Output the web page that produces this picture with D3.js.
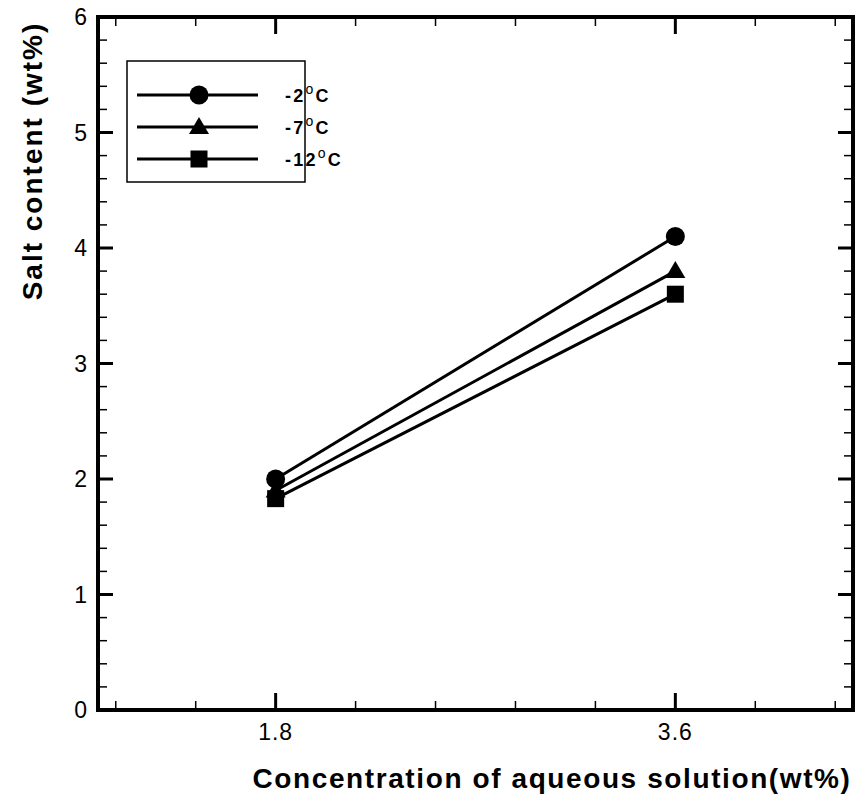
<!DOCTYPE html>
<html>
<head>
<meta charset="utf-8">
<script src="https://cdn.jsdelivr.net/npm/d3@7"></script>
<style>
  body { margin: 0; background: #fff; }
  svg { font-family: "Liberation Sans", Arial, sans-serif; }
</style>
</head>
<body>
<div id="chart"></div>
<script>
// data
const concentrations = [1.8, 3.6];
const temps = ["-2", "-7", "-12"];
const symbols = ["circle", "triangle", "square"];
const salt_m2 = [2.0, 4.1];
const salt_m7 = [1.9, 3.8];
const salt_m12 = [1.83, 3.6];
const seriesValues = [salt_m2, salt_m7, salt_m12];
const yTicks = [0, 1, 2, 3, 4, 5, 6];

const width = 863, height = 800;
const margin = { top: 17, right: 8, bottom: 90, left: 98 };

const svg = d3.select("#chart").append("svg")
    .attr("width", width)
    .attr("height", height);

const x = d3.scaleLinear().domain([1.0, 4.4]).range([margin.left, width - margin.right - 2]);
const y = d3.scaleLinear().domain([0, 6]).range([height - margin.bottom, margin.top]);

const x0 = x.range()[0], x1 = x.range()[1];
const y0 = y.range()[0], y1 = y.range()[1];

const minorX = d3.range(1.08, 4.4, 0.36).map(v => +v.toFixed(2))
    .filter(v => !concentrations.includes(v));
const minorY = d3.range(0, 6.001, 0.2).map(v => +v.toFixed(1))
    .filter(v => !yTicks.includes(v));

// ticks
const g = svg.append("g");
function ticksX(vals, len, w) {
    g.selectAll(null).data(vals).enter().append("line")
        .attr("x1", d => x(d)).attr("x2", d => x(d))
        .attr("y1", y0).attr("y2", y0 - len)
        .attr("stroke", "#000").attr("stroke-width", w);
    g.selectAll(null).data(vals).enter().append("line")
        .attr("x1", d => x(d)).attr("x2", d => x(d))
        .attr("y1", y1).attr("y2", y1 + len)
        .attr("stroke", "#000").attr("stroke-width", w);
}
function ticksY(vals, len, w) {
    g.selectAll(null).data(vals).enter().append("line")
        .attr("y1", d => y(d)).attr("y2", d => y(d))
        .attr("x1", x0).attr("x2", x0 + len)
        .attr("stroke", "#000").attr("stroke-width", w);
    g.selectAll(null).data(vals).enter().append("line")
        .attr("y1", d => y(d)).attr("y2", d => y(d))
        .attr("x1", x1).attr("x2", x1 - len)
        .attr("stroke", "#000").attr("stroke-width", w);
}
ticksX(minorX, 9, 1.5);
ticksX(concentrations, 17, 3);
ticksY(minorY, 9, 1.5);
ticksY(yTicks, 15, 3);

// frame
svg.append("rect")
    .attr("x", x0).attr("y", y1)
    .attr("width", x1 - x0).attr("height", y0 - y1)
    .attr("fill", "none").attr("stroke", "#000").attr("stroke-width", 4);

// tick labels
svg.selectAll(".xl").data(concentrations).enter().append("text")
    .attr("x", d => x(d)).attr("y", y0 + 30)
    .attr("text-anchor", "middle").attr("font-size", 23).attr("letter-spacing", 1)
    .text(d => d.toFixed(1));
svg.selectAll(".yl").data(yTicks).enter().append("text")
    .attr("x", x0 - 11).attr("y", d => y(d) + 8)
    .attr("text-anchor", "end").attr("font-size", 23)
    .text(d => d);

// axis titles
svg.append("text")
    .attr("x", 552).attr("y", 788)
    .attr("text-anchor", "middle").attr("font-size", 28).attr("font-weight", "bold")
    .attr("letter-spacing", 1.6)
    .text("Concentration of aqueous solution(wt%)");
svg.append("text")
    .attr("transform", `translate(42, 161) rotate(-90)`)
    .attr("text-anchor", "middle").attr("font-size", 28).attr("font-weight", "bold")
    .attr("letter-spacing", 2)
    .text("Salt content (wt%)");

function drawSymbol(sel, type, cx, cy) {
    if (type === "circle") {
        sel.append("circle").attr("cx", cx).attr("cy", cy).attr("r", 9.5).attr("fill", "#000");
    } else if (type === "triangle") {
        sel.append("path")
            .attr("d", `M${cx},${cy - 10}L${cx + 10},${cy + 7}L${cx - 10},${cy + 7}Z`)
            .attr("fill", "#000");
    } else {
        sel.append("rect").attr("x", cx - 8.5).attr("y", cy - 8.5)
            .attr("width", 17).attr("height", 17).attr("fill", "#000");
    }
}

// series
const line = d3.line().x((d, i) => x(concentrations[i])).y(d => y(d));
seriesValues.forEach((vals, k) => {
    const s = svg.append("g");
    s.append("path").datum(vals).attr("d", line)
        .attr("fill", "none").attr("stroke", "#000").attr("stroke-width", 3);
    vals.forEach((v, i) => drawSymbol(s, symbols[k], x(concentrations[i]), y(v)));
});

// legend
const lg = svg.append("g");
lg.append("rect").attr("x", 127).attr("y", 61).attr("width", 178).attr("height", 121)
    .attr("fill", "#fff").attr("stroke", "#000").attr("stroke-width", 1.5);
temps.forEach((t, k) => {
    const ly = 95 + k * 32;
    lg.append("line").attr("x1", 137).attr("x2", 258).attr("y1", ly).attr("y2", ly)
        .attr("stroke", "#000").attr("stroke-width", 3);
    drawSymbol(lg, symbols[k], 199, ly);
    const tx = lg.append("text").attr("x", 285).attr("y", ly + 7)
        .attr("font-size", 18).attr("font-weight", "bold").attr("letter-spacing", 2.2);
    tx.append("tspan").text(t);
    tx.append("tspan").attr("dy", -8).attr("font-size", 14).attr("font-weight", "normal").text("o");
    tx.append("tspan").attr("dy", 8).text("C");
});
</script>
</body>
</html>
